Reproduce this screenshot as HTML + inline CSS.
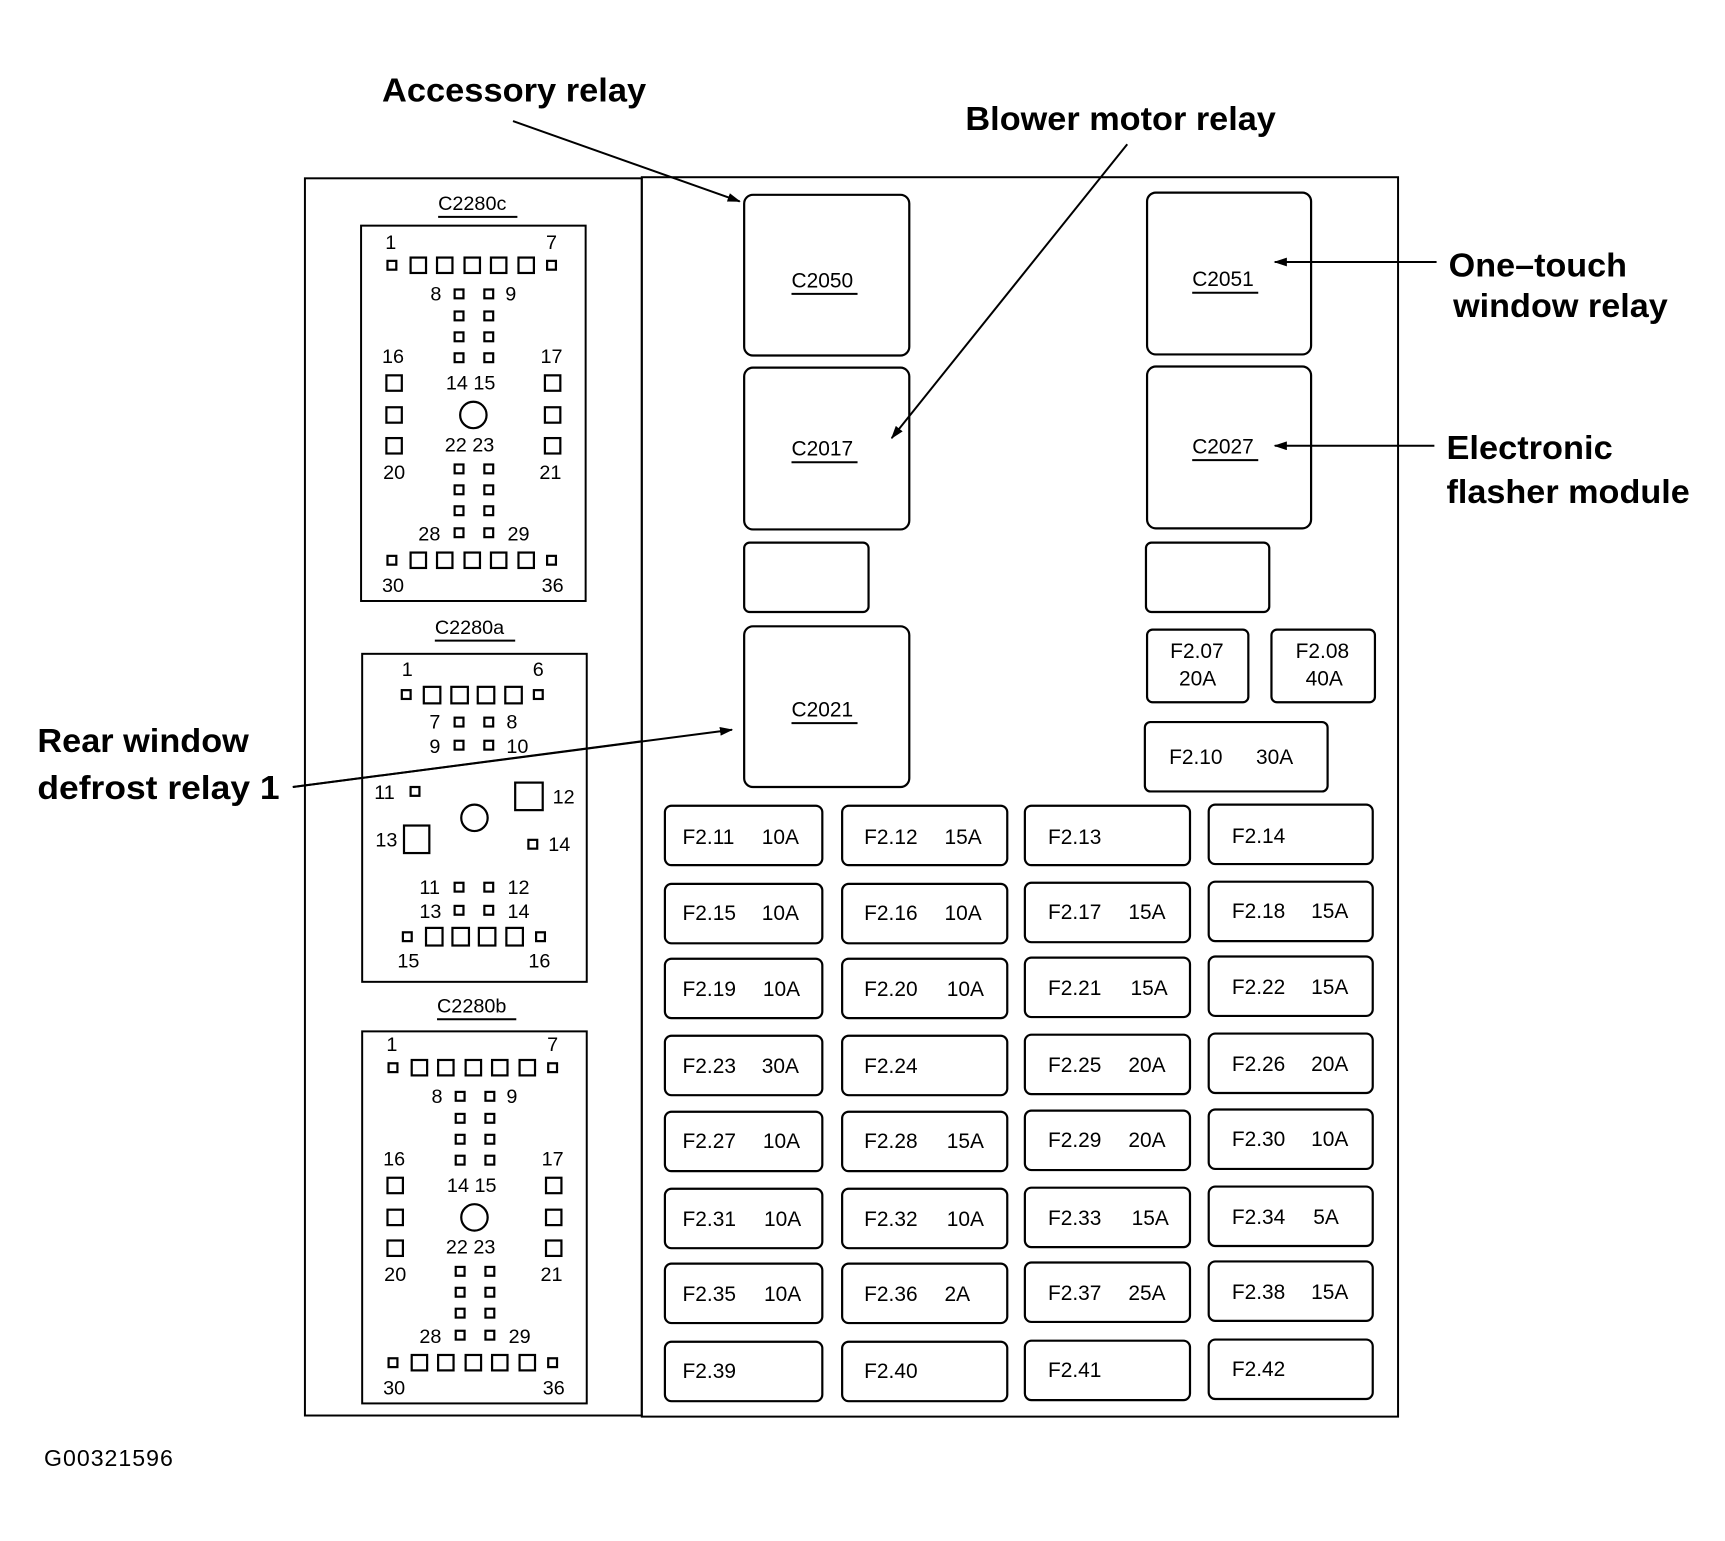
<!DOCTYPE html>
<html><head><meta charset="utf-8"><style>
html,body{margin:0;padding:0;background:#fff;}
svg{display:block}
text{font-family:"Liberation Sans",Arial,sans-serif;fill:#000}
.n{font-size:18px}
.f{font-size:19px}
.b{font-size:30px;font-weight:bold}
.s{fill:#fff;stroke:#000;stroke-width:2}
.t{fill:none;stroke:#000;stroke-width:1.8}
</style></head><body>
<svg width="1725" height="1541" viewBox="0 0 1567 1400" preserveAspectRatio="none" xmlns="http://www.w3.org/2000/svg">
<defs><marker id="ar" markerWidth="12" markerHeight="8" refX="11" refY="4" orient="auto" markerUnits="userSpaceOnUse"><path d="M0,0 L12,4 L0,8 z" fill="#000"/></marker></defs>

<!-- panels -->
<rect x="277" y="162" width="306" height="1124" class="t"/>
<rect x="583" y="161" width="687" height="1126" class="t"/>

<!-- callout labels -->
<text x="347" y="92" class="b" textLength="240" lengthAdjust="spacingAndGlyphs">Accessory relay</text>
<text x="877" y="118" class="b" textLength="282" lengthAdjust="spacingAndGlyphs">Blower motor relay</text>
<text x="1316" y="251" class="b" textLength="162" lengthAdjust="spacingAndGlyphs">One–touch</text>
<text x="1320" y="288" class="b" textLength="195" lengthAdjust="spacingAndGlyphs">window relay</text>
<text x="1314" y="417" class="b" textLength="151" lengthAdjust="spacingAndGlyphs">Electronic</text>
<text x="1314" y="457" class="b" textLength="221" lengthAdjust="spacingAndGlyphs">flasher module</text>
<text x="34" y="683" class="b" textLength="192" lengthAdjust="spacingAndGlyphs">Rear window</text>
<text x="34" y="726" class="b" textLength="220" lengthAdjust="spacingAndGlyphs">defrost  relay 1</text>
<text x="40" y="1332" style="font-size:21px" textLength="117">G00321596</text>

<!-- relays -->
<rect x="676" y="177" width="150" height="146" rx="8" class="s"/>
<rect x="1042" y="175" width="149" height="147" rx="8" class="s"/>
<rect x="676" y="334" width="150" height="147" rx="8" class="s"/>
<rect x="1042" y="333" width="149" height="147" rx="8" class="s"/>
<rect x="676" y="493" width="113" height="63" rx="5" class="s"/>
<rect x="1041" y="493" width="112" height="63" rx="5" class="s"/>
<rect x="676" y="569" width="150" height="146" rx="8" class="s"/>
<rect x="1042" y="572" width="92" height="66" rx="5" class="s"/>
<rect x="1155" y="572" width="94" height="66" rx="5" class="s"/>
<rect x="1040" y="656" width="166" height="63" rx="5" class="s"/>
<text x="719" y="261" class="f">C2050</text><line x1="719" y1="267" x2="779" y2="267" class="t" stroke-width="1"/>
<text x="1083" y="260" class="f">C2051</text><line x1="1083" y1="266" x2="1143" y2="266" class="t" stroke-width="1"/>
<text x="719" y="414" class="f">C2017</text><line x1="719" y1="420" x2="779" y2="420" class="t" stroke-width="1"/>
<text x="1083" y="412" class="f">C2027</text><line x1="1083" y1="418" x2="1143" y2="418" class="t" stroke-width="1"/>
<text x="719" y="651" class="f">C2021</text><line x1="719" y1="657" x2="779" y2="657" class="t" stroke-width="1"/>
<text x="1063" y="598" class="f">F2.07</text><text x="1071" y="623" class="f">20A</text>
<text x="1177" y="598" class="f">F2.08</text><text x="1186" y="623" class="f">40A</text>
<text x="1062" y="694" class="f">F2.10</text><text x="1141" y="694" class="f">30A</text>

<!-- arrows -->
<line x1="466" y1="110" x2="672" y2="183" class="t" marker-end="url(#ar)"/>
<line x1="1024" y1="131" x2="810" y2="398" class="t" marker-end="url(#ar)"/>
<line x1="1305" y1="238" x2="1158" y2="238" class="t" marker-end="url(#ar)"/>
<line x1="1303" y1="405" x2="1158" y2="405" class="t" marker-end="url(#ar)"/>
<line x1="266" y1="715" x2="665" y2="663" class="t" marker-end="url(#ar)"/>

<!-- fuses -->
<g>
<rect x="604" y="732" width="143" height="54" rx="6" class="s"/><rect x="765" y="732" width="150" height="54" rx="6" class="s"/><rect x="931" y="732" width="150" height="54" rx="6" class="s"/><rect x="1098" y="731" width="149" height="54" rx="6" class="s"/>
<rect x="604" y="803" width="143" height="54" rx="6" class="s"/><rect x="765" y="803" width="150" height="54" rx="6" class="s"/><rect x="931" y="802" width="150" height="54" rx="6" class="s"/><rect x="1098" y="801" width="149" height="54" rx="6" class="s"/>
<rect x="604" y="871" width="143" height="54" rx="6" class="s"/><rect x="765" y="871" width="150" height="54" rx="6" class="s"/><rect x="931" y="870" width="150" height="54" rx="6" class="s"/><rect x="1098" y="869" width="149" height="54" rx="6" class="s"/>
<rect x="604" y="941" width="143" height="54" rx="6" class="s"/><rect x="765" y="941" width="150" height="54" rx="6" class="s"/><rect x="931" y="940" width="150" height="54" rx="6" class="s"/><rect x="1098" y="939" width="149" height="54" rx="6" class="s"/>
<rect x="604" y="1010" width="143" height="54" rx="6" class="s"/><rect x="765" y="1010" width="150" height="54" rx="6" class="s"/><rect x="931" y="1009" width="150" height="54" rx="6" class="s"/><rect x="1098" y="1008" width="149" height="54" rx="6" class="s"/>
<rect x="604" y="1080" width="143" height="54" rx="6" class="s"/><rect x="765" y="1080" width="150" height="54" rx="6" class="s"/><rect x="931" y="1079" width="150" height="54" rx="6" class="s"/><rect x="1098" y="1078" width="149" height="54" rx="6" class="s"/>
<rect x="604" y="1148" width="143" height="54" rx="6" class="s"/><rect x="765" y="1148" width="150" height="54" rx="6" class="s"/><rect x="931" y="1147" width="150" height="54" rx="6" class="s"/><rect x="1098" y="1146" width="149" height="54" rx="6" class="s"/>
<rect x="604" y="1219" width="143" height="54" rx="6" class="s"/><rect x="765" y="1219" width="150" height="54" rx="6" class="s"/><rect x="931" y="1218" width="150" height="54" rx="6" class="s"/><rect x="1098" y="1217" width="149" height="54" rx="6" class="s"/>
</g>
<g>
<text x="620" y="767" class="f">F2.11</text><text x="692" y="767" class="f">10A</text>
<text x="785" y="767" class="f">F2.12</text><text x="858" y="767" class="f">15A</text>
<text x="952" y="767" class="f">F2.13</text>
<text x="1119" y="766" class="f">F2.14</text>
<text x="620" y="836" class="f">F2.15</text><text x="692" y="836" class="f">10A</text>
<text x="785" y="836" class="f">F2.16</text><text x="858" y="836" class="f">10A</text>
<text x="952" y="835" class="f">F2.17</text><text x="1025" y="835" class="f">15A</text>
<text x="1119" y="834" class="f">F2.18</text><text x="1191" y="834" class="f">15A</text>
<text x="620" y="905" class="f">F2.19</text><text x="693" y="905" class="f">10A</text>
<text x="785" y="905" class="f">F2.20</text><text x="860" y="905" class="f">10A</text>
<text x="952" y="904" class="f">F2.21</text><text x="1027" y="904" class="f">15A</text>
<text x="1119" y="903" class="f">F2.22</text><text x="1191" y="903" class="f">15A</text>
<text x="620" y="975" class="f">F2.23</text><text x="692" y="975" class="f">30A</text>
<text x="785" y="975" class="f">F2.24</text>
<text x="952" y="974" class="f">F2.25</text><text x="1025" y="974" class="f">20A</text>
<text x="1119" y="973" class="f">F2.26</text><text x="1191" y="973" class="f">20A</text>
<text x="620" y="1043" class="f">F2.27</text><text x="693" y="1043" class="f">10A</text>
<text x="785" y="1043" class="f">F2.28</text><text x="860" y="1043" class="f">15A</text>
<text x="952" y="1042" class="f">F2.29</text><text x="1025" y="1042" class="f">20A</text>
<text x="1119" y="1041" class="f">F2.30</text><text x="1191" y="1041" class="f">10A</text>
<text x="620" y="1114" class="f">F2.31</text><text x="694" y="1114" class="f">10A</text>
<text x="785" y="1114" class="f">F2.32</text><text x="860" y="1114" class="f">10A</text>
<text x="952" y="1113" class="f">F2.33</text><text x="1028" y="1113" class="f">15A</text>
<text x="1119" y="1112" class="f">F2.34</text><text x="1193" y="1112" class="f">5A</text>
<text x="620" y="1182" class="f">F2.35</text><text x="694" y="1182" class="f">10A</text>
<text x="785" y="1182" class="f">F2.36</text><text x="858" y="1182" class="f">2A</text>
<text x="952" y="1181" class="f">F2.37</text><text x="1025" y="1181" class="f">25A</text>
<text x="1119" y="1180" class="f">F2.38</text><text x="1191" y="1180" class="f">15A</text>
<text x="620" y="1252" class="f">F2.39</text>
<text x="785" y="1252" class="f">F2.40</text>
<text x="952" y="1251" class="f">F2.41</text>
<text x="1119" y="1250" class="f">F2.42</text>
</g>

<!-- C2280c -->
<g>
<text x="398" y="191" class="n">C2280c</text><line x1="398" y1="197" x2="470" y2="197" class="t" stroke-width="1"/>
<rect x="328" y="205" width="204" height="341" class="t" stroke-width="2.2"/>
<g class="s">
<rect x="352" y="237" width="8" height="8"/><rect x="497" y="237" width="8" height="8"/>
<rect x="373" y="234" width="14" height="14"/><rect x="397" y="234" width="14" height="14"/><rect x="422" y="234" width="14" height="14"/><rect x="446" y="234" width="14" height="14"/><rect x="471" y="234" width="14" height="14"/>
<rect x="413" y="263" width="8" height="8"/><rect x="440" y="263" width="8" height="8"/>
<rect x="413" y="283" width="8" height="8"/><rect x="440" y="283" width="8" height="8"/>
<rect x="413" y="302" width="8" height="8"/><rect x="440" y="302" width="8" height="8"/>
<rect x="413" y="321" width="8" height="8"/><rect x="440" y="321" width="8" height="8"/>
<rect x="351" y="341" width="14" height="14"/><rect x="495" y="341" width="14" height="14"/>
<rect x="351" y="370" width="14" height="14"/><rect x="495" y="370" width="14" height="14"/>
<rect x="351" y="398" width="14" height="14"/><rect x="495" y="398" width="14" height="14"/>
<rect x="413" y="422" width="8" height="8"/><rect x="440" y="422" width="8" height="8"/>
<rect x="413" y="441" width="8" height="8"/><rect x="440" y="441" width="8" height="8"/>
<rect x="413" y="460" width="8" height="8"/><rect x="440" y="460" width="8" height="8"/>
<rect x="413" y="480" width="8" height="8"/><rect x="440" y="480" width="8" height="8"/>
<rect x="352" y="505" width="8" height="8"/><rect x="497" y="505" width="8" height="8"/>
<rect x="373" y="502" width="14" height="14"/><rect x="397" y="502" width="14" height="14"/><rect x="422" y="502" width="14" height="14"/><rect x="446" y="502" width="14" height="14"/><rect x="471" y="502" width="14" height="14"/>
<circle cx="430" cy="377" r="12"/>
</g>
<text x="350" y="226" class="n">1</text><text x="496" y="226" class="n">7</text>
<text x="391" y="273" class="n">8</text><text x="459" y="273" class="n">9</text>
<text x="347" y="330" class="n">16</text><text x="491" y="330" class="n">17</text>
<text x="405" y="354" class="n">14 15</text>
<text x="404" y="410" class="n">22 23</text>
<text x="348" y="435" class="n">20</text><text x="490" y="435" class="n">21</text>
<text x="380" y="491" class="n">28</text><text x="461" y="491" class="n">29</text>
<text x="347" y="538" class="n">30</text><text x="492" y="538" class="n">36</text>
</g>

<!-- C2280b -->
<g transform="translate(1,729)">
<text x="396" y="191" class="n">C2280b</text><line x1="396" y1="197" x2="468" y2="197" class="t" stroke-width="1"/>
<rect x="328" y="208" width="204" height="338" class="t" stroke-width="2.2"/>
<g class="s">
<rect x="352" y="237" width="8" height="8"/><rect x="497" y="237" width="8" height="8"/>
<rect x="373" y="234" width="14" height="14"/><rect x="397" y="234" width="14" height="14"/><rect x="422" y="234" width="14" height="14"/><rect x="446" y="234" width="14" height="14"/><rect x="471" y="234" width="14" height="14"/>
<rect x="413" y="263" width="8" height="8"/><rect x="440" y="263" width="8" height="8"/>
<rect x="413" y="283" width="8" height="8"/><rect x="440" y="283" width="8" height="8"/>
<rect x="413" y="302" width="8" height="8"/><rect x="440" y="302" width="8" height="8"/>
<rect x="413" y="321" width="8" height="8"/><rect x="440" y="321" width="8" height="8"/>
<rect x="351" y="341" width="14" height="14"/><rect x="495" y="341" width="14" height="14"/>
<rect x="351" y="370" width="14" height="14"/><rect x="495" y="370" width="14" height="14"/>
<rect x="351" y="398" width="14" height="14"/><rect x="495" y="398" width="14" height="14"/>
<rect x="413" y="422" width="8" height="8"/><rect x="440" y="422" width="8" height="8"/>
<rect x="413" y="441" width="8" height="8"/><rect x="440" y="441" width="8" height="8"/>
<rect x="413" y="460" width="8" height="8"/><rect x="440" y="460" width="8" height="8"/>
<rect x="413" y="480" width="8" height="8"/><rect x="440" y="480" width="8" height="8"/>
<rect x="352" y="505" width="8" height="8"/><rect x="497" y="505" width="8" height="8"/>
<rect x="373" y="502" width="14" height="14"/><rect x="397" y="502" width="14" height="14"/><rect x="422" y="502" width="14" height="14"/><rect x="446" y="502" width="14" height="14"/><rect x="471" y="502" width="14" height="14"/>
<circle cx="430" cy="377" r="12"/>
</g>
<text x="350" y="226" class="n">1</text><text x="496" y="226" class="n">7</text>
<text x="391" y="273" class="n">8</text><text x="459" y="273" class="n">9</text>
<text x="347" y="330" class="n">16</text><text x="491" y="330" class="n">17</text>
<text x="405" y="354" class="n">14 15</text>
<text x="404" y="410" class="n">22 23</text>
<text x="348" y="435" class="n">20</text><text x="490" y="435" class="n">21</text>
<text x="380" y="491" class="n">28</text><text x="461" y="491" class="n">29</text>
<text x="347" y="538" class="n">30</text><text x="492" y="538" class="n">36</text>
</g>

<!-- C2280a -->
<text x="395" y="576" class="n">C2280a</text><line x1="395" y1="582" x2="468" y2="582" class="t" stroke-width="1"/>
<rect x="329" y="594" width="204" height="298" class="t" stroke-width="2.2"/>
<g class="s">
<rect x="365" y="627" width="8" height="8"/><rect x="485" y="627" width="8" height="8"/>
<rect x="385" y="624" width="15" height="15"/><rect x="410" y="624" width="15" height="15"/><rect x="434" y="624" width="15" height="15"/><rect x="459" y="624" width="15" height="15"/>
<rect x="413" y="652" width="8" height="8"/><rect x="440" y="652" width="8" height="8"/>
<rect x="413" y="673" width="8" height="8"/><rect x="440" y="673" width="8" height="8"/>
<rect x="373" y="715" width="8" height="8"/>
<rect x="468" y="711" width="25" height="25"/>
<circle cx="431" cy="743" r="12"/>
<rect x="367" y="750" width="23" height="25"/>
<rect x="480" y="763" width="8" height="8"/>
<rect x="413" y="802" width="8" height="8"/><rect x="440" y="802" width="8" height="8"/>
<rect x="413" y="823" width="8" height="8"/><rect x="440" y="823" width="8" height="8"/>
<rect x="366" y="847" width="8" height="8"/><rect x="487" y="847" width="8" height="8"/>
<rect x="387" y="843" width="15" height="16"/><rect x="411" y="843" width="15" height="16"/><rect x="435" y="843" width="15" height="16"/><rect x="460" y="843" width="15" height="16"/>
</g>
<text x="365" y="614" class="n">1</text><text x="484" y="614" class="n">6</text>
<text x="390" y="662" class="n">7</text><text x="460" y="662" class="n">8</text>
<text x="390" y="684" class="n">9</text><text x="460" y="684" class="n">10</text>
<text x="340" y="726" class="n">11</text><text x="502" y="730" class="n">12</text>
<text x="341" y="769" class="n">13</text><text x="498" y="773" class="n">14</text>
<text x="381" y="812" class="n">11</text><text x="461" y="812" class="n">12</text>
<text x="381" y="834" class="n">13</text><text x="461" y="834" class="n">14</text>
<text x="361" y="879" class="n">15</text><text x="480" y="879" class="n">16</text>
<line x1="266" y1="715" x2="583" y2="673.4" class="t"/>
</svg>
</body></html>
